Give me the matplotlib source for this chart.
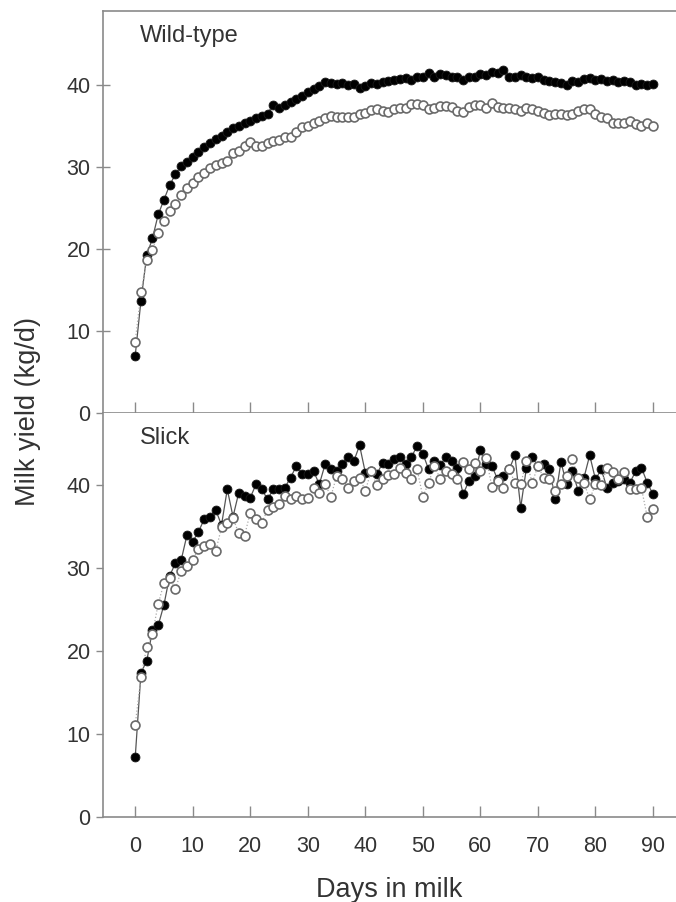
import matplotlib.pyplot as plt

plt.rcParams['font.family'] = ['Liberation Sans', 'DejaVu Sans']

days = list(range(91))

# Wild-type, filled and open symbols
wt_filled = [7.0, 13.7, 19.2, 21.3, 24.2, 26.0, 27.8, 29.1, 30.1, 30.6,
             31.2, 31.8, 32.4, 32.9, 33.4, 33.8, 34.3, 34.7, 35.0, 35.4,
             35.6, 35.9, 36.2, 36.5, 37.6, 37.2, 37.5, 37.9, 38.3, 38.7,
             39.1, 39.5, 39.9, 40.3, 40.2, 40.1, 40.2, 40.0, 40.1, 39.6,
             39.9, 40.2, 40.1, 40.4, 40.5, 40.6, 40.7, 40.8, 40.6, 40.9,
             41.0, 41.5, 40.9, 41.3, 41.2, 41.0, 40.9, 40.6, 40.9, 41.0,
             41.3, 41.2, 41.6, 41.5, 41.8, 41.0, 41.0, 41.2, 40.9, 40.8,
             41.0, 40.6, 40.5, 40.3, 40.2, 40.0, 40.5, 40.4, 40.7, 40.8,
             40.6, 40.7, 40.5, 40.6, 40.4, 40.5, 40.3, 40.0, 40.1, 40.0,
             40.1]
wt_open = [8.7, 14.7, 18.6, 19.9, 22.0, 23.4, 24.6, 25.5, 26.6, 27.4,
           28.0, 28.8, 29.3, 29.9, 30.2, 30.5, 30.7, 31.7, 31.9, 32.5,
           33.0, 32.6, 32.6, 32.9, 33.1, 33.3, 33.7, 33.7, 34.3, 34.8,
           35.0, 35.3, 35.6, 36.0, 36.2, 36.1, 36.1, 36.1, 36.1, 36.4,
           36.6, 36.9, 37.0, 36.8, 36.7, 37.1, 37.2, 37.2, 37.7, 37.7,
           37.6, 37.0, 37.2, 37.4, 37.4, 37.3, 36.8, 36.7, 37.3, 37.5,
           37.6, 37.2, 37.8, 37.3, 37.2, 37.2, 37.1, 36.8, 37.2, 37.0,
           36.8, 36.6, 36.3, 36.4, 36.4, 36.3, 36.4, 36.8, 37.1, 37.0,
           36.4, 36.1, 35.9, 35.3, 35.4, 35.4, 35.6, 35.2, 35.0, 35.3,
           35.0]

# Slick, filled and open symbols
sl_filled = [7.2, 17.4, 18.8, 22.5, 23.1, 25.6, 29.1, 30.6, 31.0, 34.0,
             33.2, 34.4, 35.9, 36.2, 37.0, 35.2, 39.5, 36.2, 39.1, 38.7,
             38.5, 40.1, 39.5, 38.3, 39.5, 39.5, 39.7, 40.9, 42.3, 41.3,
             41.3, 41.7, 40.1, 42.5, 41.9, 41.7, 42.5, 43.4, 42.9, 44.8,
             41.5, 41.7, 41.3, 42.7, 42.5, 43.1, 43.4, 42.5, 43.4, 44.7,
             43.8, 41.9, 42.9, 42.4, 43.4, 42.9, 42.1, 38.9, 40.5, 41.1,
             44.2, 42.5, 42.3, 40.7, 41.1, 41.9, 43.6, 37.3, 42.1, 43.4,
             42.3, 42.5, 42.0, 38.3, 42.8, 40.1, 41.7, 39.3, 40.9, 43.6,
             40.7, 41.9, 39.7, 40.3, 40.5, 40.7, 40.3, 41.7, 42.1, 40.3,
             38.9]
sl_open = [11.1, 16.9, 20.5, 22.1, 25.7, 28.2, 28.8, 27.5, 29.7, 30.2,
           31.0, 32.3, 32.7, 32.9, 32.1, 34.9, 35.5, 36.0, 34.2, 33.9,
           36.7, 35.9, 35.5, 37.0, 37.4, 37.7, 38.7, 38.3, 38.7, 38.3,
           38.4, 39.7, 39.1, 40.2, 38.6, 41.1, 40.8, 39.7, 40.5, 40.9,
           39.3, 41.7, 40.0, 40.7, 41.2, 41.3, 42.1, 41.5, 40.7, 41.9,
           38.6, 40.3, 42.3, 40.8, 41.7, 41.3, 40.7, 42.8, 41.9, 42.7,
           41.7, 43.3, 39.8, 40.5, 39.6, 41.9, 40.3, 40.1, 42.9, 40.3,
           42.3, 40.9, 40.8, 39.3, 40.1, 41.1, 43.1, 40.9, 40.3, 38.3,
           40.1, 40.0, 42.1, 41.6, 40.7, 41.6, 39.5, 39.5, 39.6, 36.2,
           37.1]

fig = plt.figure(figsize=(6.76, 9.02), dpi=100)
W, H = 676.0, 902.0
ax1 = fig.add_axes([103 / W, 1 - 413 / H, 1 - 103 / W, 402 / H])
ax2 = fig.add_axes([103 / W, 1 - 817 / H, 1 - 103 / W, 404 / H])

spine_col = '#8a8a8a'
text_col = '#333333'

for ax, filled, opened, name, top in [(ax1, wt_filled, wt_open, 'Wild-type', 49.0),
                                      (ax2, sl_filled, sl_open, 'Slick', 48.7)]:
    ax.plot(days, filled, '-', color='#555555', lw=0.9, zorder=2)
    ax.plot(days, filled, 'o', ms=6.4, mfc='black', mec='#1a1a1a', mew=0.6, zorder=3)
    ax.plot(days, opened, ':', color='#aaaaaa', lw=0.9, zorder=2)
    ax.plot(days, opened, 'o', ms=6.4, mfc='white', mec='#6a6a6a', mew=1.2, zorder=4)
    ax.set_xlim(-5.6, 94.0)
    ax.set_ylim(0, top)
    ax.set_xticks(range(0, 91, 10))
    ax.set_yticks([0, 10, 20, 30, 40])
    ax.spines['right'].set_visible(False)
    for s in ['left', 'bottom', 'top']:
        ax.spines[s].set_color(spine_col)
        ax.spines[s].set_linewidth(1.2)
    ax.tick_params(axis='x', direction='in', length=8, width=1.0, color=spine_col,
                   labelsize=15.5, labelcolor=text_col, pad=14)
    ax.tick_params(axis='y', direction='out', length=5, width=1.0, color=spine_col,
                   labelsize=15.5, labelcolor=text_col, pad=4)
    ax.text(0.065, 0.965, name, transform=ax.transAxes, fontsize=17,
            color=text_col, va='top')

ax1.tick_params(axis='y', direction='inout', length=10)
ax1.tick_params(axis='x', labelbottom=False)
ax2.spines['top'].set_visible(False)

ax2.set_xlabel('Days in milk', fontsize=19.5, color=text_col, labelpad=14)
fig.text(28 / W, 1 - 412 / H, 'Milk yield (kg/d)', rotation=90, fontsize=19.5,
         color=text_col, ha='center', va='center')

plt.savefig('out.png', dpi=100)
